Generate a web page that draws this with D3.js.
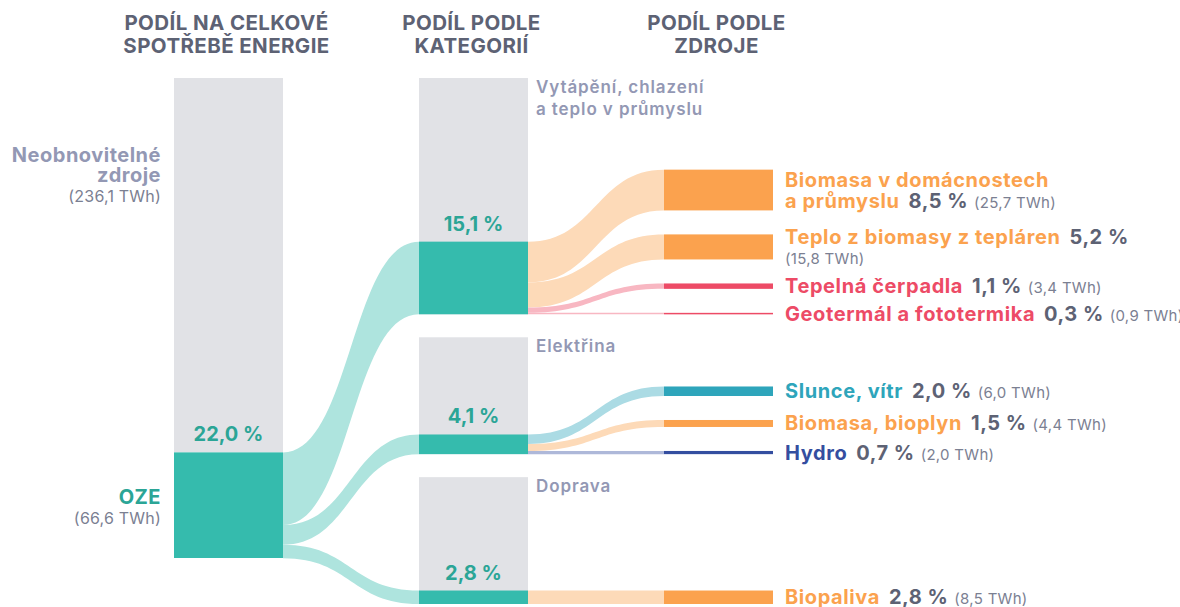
<!DOCTYPE html>
<html>
<head>
<meta charset="utf-8">
<script src="https://cdn.jsdelivr.net/npm/d3@7"></script>
<style>
    body { margin: 0; background: #fff; }
    svg text { font-family: Inter, "Noto Sans", sans-serif; }
</style>
</head>
<body>
<div id="node"></div>
<script>
// column headers
const headers = [["PODÍL NA CELKOVÉ", "SPOTŘEBĚ ENERGIE"], ["PODÍL PODLE", "KATEGORIÍ"], ["PODÍL PODLE", "ZDROJE"]];

// total consumption (TWh)
const totalNames = [["Neobnovitelné", "zdroje"], ["OZE"]];
const totalTwh = [236.1, 66.6];
const ozePct = 22.0;

// categories: whole category (gray) and its renewable part (teal), TWh
const categoryNames = [["Vytápění, chlazení", "a teplo v průmyslu"], ["Elektřina"], ["Doprava"]];
const categoryTwh = [149.0, 73.7, 80.0];
const categoryOzeTwh = [45.8, 12.4, 8.5];
const categoryPct = [15.1, 4.1, 2.8];

// renewable sources
const sourceNames = [["Biomasa v domácnostech", "a průmyslu"], ["Teplo z biomasy z tepláren"], ["Tepelná čerpadla"],
    ["Geotermál a fototermika"], ["Slunce, vítr"], ["Biomasa, bioplyn"], ["Hydro"], ["Biopaliva"]];
const sourceCategory = [0, 0, 0, 0, 1, 1, 1, 2];
const sourceTwh = [25.7, 15.8, 3.4, 0.9, 6.0, 4.4, 2.0, 8.5];
const sourcePct = [8.5, 5.2, 1.1, 0.3, 2.0, 1.5, 0.7, 2.8];
const sourceTwhOnNewLine = [false, true, false, false, false, false, false, false];
const sourceColors = ["#fba24e", "#fba24e", "#ed4b66", "#ed4b66", "#2ea5bb", "#fba24e", "#344ea0", "#fba24e"];

const GRAY = "#e1e2e6", TEAL = "#35bbad", TEAL_TEXT = "#2ba596";
const SLATE = "#5d6274", LAVENDER = "#9398b4", MUTED = "#7b8092";

const cz = d3.formatLocale({ decimal: ",", thousands: " ", grouping: [3], currency: ["", " Kč"] });
const f1 = cz.format(".1f");
const pct = v => f1(v) + " %";
const twh = v => "(" + f1(v) + " TWh)";
const light = c => d3.interpolateRgb(c, "#fff")(0.6);

const width = 1180, height = 607;
const chartTop = 78, gap = 23, srcGap = 24, nodeW = 109;

const svg = d3.select("#node").append("svg")
    .attr("width", width)
    .attr("height", height);

const x = d3.scaleLinear().domain([0, 2]).range([174, 664]);
const y = d3.scaleLinear().domain([0, d3.sum(totalTwh)]).range([0, 480]);

// band between two stacked positions
function band(x0, y0, x1, y1, h) {
    const p = d3.path(), xm = (x0 + x1) / 2;
    p.moveTo(x0, y0);
    p.bezierCurveTo(xm, y0, xm, y1, x1, y1);
    p.lineTo(x1, y1 + h);
    p.bezierCurveTo(xm, y1 + h, xm, y0 + h, x0, y0 + h);
    p.closePath();
    return p.toString();
}

const linkLayer = svg.append("g");
const nodeLayer = svg.append("g");
const textLayer = svg.append("g");

// headers
headers.forEach((lines, c) => {
    textLayer.append("text")
        .attr("x", x(c) + nodeW / 2 - 2)
        .attr("y", 30)
        .attr("text-anchor", "middle")
        .attr("font-size", 20.5)
        .attr("font-weight", 700)
        .attr("letter-spacing", 0.4)
        .attr("fill", SLATE)
        .selectAll("tspan")
        .data(lines)
        .join("tspan")
        .attr("x", x(c) + nodeW / 2 - 2)
        .attr("dy", (d, i) => i ? 23 : 0)
        .text(d => d);
});

// column 1
const nonTop = chartTop, nonBottom = chartTop + y(totalTwh[0]);
const ozeTop = nonBottom, ozeBottom = ozeTop + y(totalTwh[1]);
nodeLayer.append("rect").attr("x", x(0)).attr("y", nonTop).attr("width", nodeW).attr("height", nonBottom - nonTop).attr("fill", GRAY);
nodeLayer.append("rect").attr("x", x(0)).attr("y", ozeTop).attr("width", nodeW).attr("height", ozeBottom - ozeTop).attr("fill", TEAL);

function sideLabel(lines, xx, y0, color, sub) {
    const t = textLayer.append("text").attr("x", xx).attr("y", y0).attr("text-anchor", "end");
    lines.forEach((l, i) => {
        t.append("tspan").attr("x", xx).attr("dy", i ? 20 : 0)
            .attr("font-size", 20).attr("font-weight", 700).attr("letter-spacing", 0.5)
            .attr("fill", color).text(l);
    });
    t.append("tspan").attr("x", xx).attr("dy", 20)
        .attr("font-size", 16).attr("letter-spacing", 0.2).attr("fill", MUTED).text(sub);
}
sideLabel(totalNames[0], x(0) - 13, nonTop + 84, LAVENDER, twh(totalTwh[0]));
sideLabel(totalNames[1], x(0) - 13, (ozeTop + ozeBottom) / 2 - 1, TEAL_TEXT, twh(totalTwh[1]));

function pctLabel(c, yy, v) {
    textLayer.append("text")
        .attr("x", x(c) + nodeW / 2)
        .attr("y", yy - 11)
        .attr("text-anchor", "middle")
        .attr("font-size", 20)
        .attr("font-weight", 700)
        .attr("fill", TEAL_TEXT)
        .text(pct(v));
}
pctLabel(0, ozeTop, ozePct);

// column 2 + links from column 1
let cursor = chartTop, srcCursor = ozeTop;
const catTeal = [];
categoryTwh.forEach((v, i) => {
    const g0 = cursor, g1 = cursor + y(v);
    const t0 = g1 - y(categoryOzeTwh[i]);
    catTeal.push({ top: t0, bottom: g1 });
    nodeLayer.append("rect").attr("x", x(1)).attr("y", g0).attr("width", nodeW).attr("height", g1 - g0).attr("fill", GRAY);
    nodeLayer.append("rect").attr("x", x(1)).attr("y", t0).attr("width", nodeW).attr("height", g1 - t0).attr("fill", TEAL);

    linkLayer.append("path")
        .attr("d", band(x(0) + nodeW, srcCursor, x(1), t0, y(categoryOzeTwh[i])))
        .attr("fill", light(TEAL));
    srcCursor += y(categoryOzeTwh[i]);

    const t = textLayer.append("text").attr("x", x(1) + nodeW + 8).attr("y", g0 + 15)
        .attr("font-size", 17).attr("font-weight", 600).attr("letter-spacing", 0.9).attr("fill", LAVENDER);
    categoryNames[i].forEach((l, j) => {
        t.append("tspan").attr("x", x(1) + nodeW + 8).attr("dy", j ? 22 : 0).text(l);
    });
    pctLabel(1, t0, categoryPct[i]);
    cursor = g1 + gap;
});

// column 3: each group bottom-aligned with its category, stacked upwards
const srcPos = [];
categoryTwh.forEach((v, c) => {
    let bottom = catTeal[c].bottom;
    const idx = sourceCategory.map((k, i) => k === c ? i : -1).filter(i => i >= 0);
    idx.slice().reverse().forEach(i => {
        srcPos[i] = { top: bottom - y(sourceTwh[i]), bottom: bottom };
        bottom = srcPos[i].top - srcGap;
    });
    let sc = catTeal[c].top;
    idx.forEach(i => {
        linkLayer.append("path")
            .attr("d", band(x(1) + nodeW, sc, x(2), srcPos[i].top, y(sourceTwh[i])))
            .attr("fill", light(sourceColors[i]));
        sc += y(sourceTwh[i]);
    });
});

sourceTwh.forEach((v, i) => {
    const p = srcPos[i];
    nodeLayer.append("rect").attr("x", x(2)).attr("y", p.top).attr("width", nodeW)
        .attr("height", Math.max(p.bottom - p.top, 1.5)).attr("fill", sourceColors[i]);

    // build label lines
    const names = sourceNames[i];
    const lines = names.map(n => [{ t: n, k: "name" }]);
    const last = lines[lines.length - 1];
    last.push({ t: pct(sourcePct[i]), k: "pct" });
    if (sourceTwhOnNewLine[i]) lines.push([{ t: twh(v), k: "twh" }]);
    else last.push({ t: twh(v), k: "twh" });

    const cy = (p.top + p.bottom) / 2;
    const lx = x(2) + nodeW + 12;
    const t = textLayer.append("text").attr("x", lx).attr("y", cy - (lines.length - 1) * 10 + 7);
    lines.forEach((segs, j) => {
        segs.forEach((s, k) => {
            const ts = t.append("tspan").text(s.t);
            if (k === 0) ts.attr("x", lx).attr("dy", j ? 20.5 : 0);
            else ts.attr("dx", s.k === "pct" ? 9 : 6);
            if (s.k === "name") ts.attr("font-size", 20).attr("font-weight", 700).attr("letter-spacing", 0.6).attr("fill", sourceColors[i]);
            if (s.k === "pct") ts.attr("font-size", 20).attr("font-weight", 700).attr("letter-spacing", 0.5).attr("fill", SLATE);
            if (s.k === "twh") ts.attr("font-size", 15).attr("letter-spacing", 0.3).attr("fill", MUTED);
        });
    });
});
</script>
</body>
</html>
